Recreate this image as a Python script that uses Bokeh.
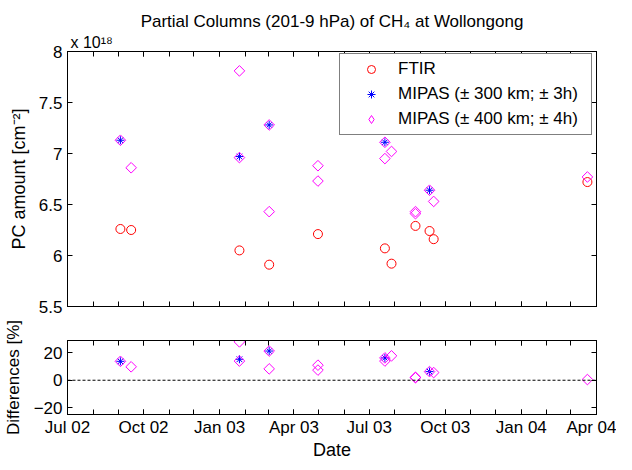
import numpy as np
import pandas as pd
from bokeh.plotting import figure
from bokeh.layouts import column
from bokeh.models import (ColumnDataSource, FixedTicker, DatetimeTickFormatter, LinearAxis,
                          DatetimeAxis, Range1d, Span, Legend, LegendItem, Title,
                          CustomJSTickFormatter)
from bokeh.embed import file_html
from bokeh.resources import INLINE

# ---------------- data (PC amounts in units of 1e18 cm^-2) ----------------
ftir_dates = ["2002-09-03", "2002-09-16", "2003-01-25", "2003-03-02", "2003-04-30",
              "2003-07-20", "2003-07-28", "2003-08-26", "2003-09-12", "2003-09-17",
              "2004-03-21"]
ftir_pc = [6.26, 6.25, 6.05, 5.91, 6.21, 6.07, 5.92, 6.29, 6.24, 6.16, 6.72]

m300_dates = ["2002-09-03", "2003-01-25", "2003-03-02", "2003-07-20", "2003-09-12"]
m300_pc = [7.13, 6.97, 7.28, 7.11, 6.64]
m300_diff = [13.8, 15.3, 21.3, 16.3, 6.3]

m400_dates = ["2002-09-03", "2002-09-16", "2003-01-25", "2003-01-25", "2003-03-02",
              "2003-03-02", "2003-04-30", "2003-04-30", "2003-07-20", "2003-07-20",
              "2003-07-28", "2003-08-26", "2003-08-26", "2003-09-12", "2003-09-17",
              "2004-03-21"]
m400_pc = [7.13, 6.86, 7.81, 6.96, 7.28, 6.43, 6.88, 6.73, 7.11, 6.95,
           7.02, 6.43, 6.41, 6.64, 6.53, 6.77]
m400_diff = [13.8, 9.8, 28.0, 14.0, 21.3, 8.3, 11.0, 7.4, 16.3, 14.0,
             17.8, 2.2, 1.8, 6.3, 5.6, 0.5]

x_tick_dates = ["2002-07-01", "2002-10-01", "2003-01-01", "2003-04-01",
                "2003-07-01", "2003-10-01", "2004-01-01", "2004-04-01"]
x_minor_dates = ["2002-07-01", "2002-08-01", "2002-09-01", "2002-10-01", "2002-11-01",
                 "2002-12-01", "2003-01-01", "2003-02-01", "2003-03-01", "2003-04-01",
                 "2003-05-01", "2003-06-01", "2003-07-01", "2003-08-01", "2003-09-01",
                 "2003-10-01", "2003-11-01", "2003-12-01", "2004-01-01", "2004-02-01",
                 "2004-03-01", "2004-04-01"]
pc_ticks = [5.5, 6, 6.5, 7, 7.5, 8]
diff_ticks = [-20, 0, 20]

title_text = "Partial Columns (201-9 hPa) of CH\u2084 at Wollongong"
scale_text = "x 10\u00b9\u2078"
labels = ["FTIR", "MIPAS (\u00b1 300 km; \u00b1 3h)", "MIPAS (\u00b1 400 km; \u00b1 4h)"]

# ---------------- helpers ----------------
FONT = "Liberation Sans"
TICK_FS = "17px"
LAB_FS = "18px"


def ms(d):
    return pd.Timestamp(d).value / 1e6


def dts(lst):
    return pd.to_datetime(lst)


xr = Range1d(start=ms(x_tick_dates[0]), end=ms(x_tick_dates[-1]))
x_ticker = FixedTicker(ticks=[ms(d) for d in x_tick_dates],
                       minor_ticks=[ms(d) for d in x_minor_dates])
blank = CustomJSTickFormatter(code="return ''")


def style_axis(ax, show_labels=True):
    ax.axis_line_color = "black"
    ax.axis_line_width = 1
    ax.major_tick_in = 5
    ax.major_tick_out = 0
    ax.minor_tick_in = 5
    ax.minor_tick_out = 0
    ax.major_tick_line_color = "black"
    ax.minor_tick_line_color = "black"
    ax.major_label_text_font = FONT
    ax.major_label_text_color = "black"
    ax.axis_label_text_font = FONT
    ax.axis_label_text_font_style = "normal"
    ax.axis_label_text_font_size = LAB_FS
    ax.axis_label_text_color = "black"
    if show_labels:
        ax.major_label_text_font_size = TICK_FS
    else:
        ax.formatter = blank
        ax.major_label_text_font_size = "0px"
        ax.major_label_standoff = 0


def base_fig(height, yr, top, bottom):
    p = figure(width=616, height=height, x_axis_type="datetime", x_range=xr, y_range=yr,
               output_backend="svg", toolbar_location=None,
               min_border_left=62, min_border_right=20,
               min_border_top=top, min_border_bottom=bottom)
    p.xgrid.visible = False
    p.ygrid.visible = False
    p.outline_line_color = "black"
    p.background_fill_color = "white"
    p.border_fill_color = "white"
    return p


def add_mirror_axes(p, y_ticker):
    ax_top = DatetimeAxis(ticker=x_ticker)
    style_axis(ax_top, show_labels=False)
    p.add_layout(ax_top, "above")
    ax_right = LinearAxis(ticker=y_ticker)
    style_axis(ax_right, show_labels=False)
    ax_right.minor_tick_in = 0
    p.add_layout(ax_right, "right")


# ---------------- top panel ----------------
p1 = base_fig(320, Range1d(5.5, 8), 51, 14)
p1.xaxis.ticker = x_ticker
style_axis(p1.xaxis[0], show_labels=False)
pc_ticker = FixedTicker(ticks=pc_ticks, minor_ticks=[])
p1.yaxis.ticker = pc_ticker
style_axis(p1.yaxis[0])
p1.yaxis.minor_tick_in = 0
p1.yaxis.major_label_standoff = 5
p1.yaxis.axis_label = "PC amount [cm\u207b\u00b2]"
p1.yaxis.axis_label_standoff = 7
add_mirror_axes(p1, pc_ticker)

p1.add_layout(Title(text=scale_text, align="left", offset=3, standoff=2, text_font=FONT,
                    text_font_size="16px", text_font_style="normal",
                    text_color="black"), "above")
p1.title.text = title_text
p1.title.align = "center"
p1.title.text_font = FONT
p1.title.text_font_size = "17px"
p1.title.text_font_style = "normal"
p1.title.text_color = "black"
p1.title.standoff = 0

src_f = ColumnDataSource(dict(x=dts(ftir_dates), y=ftir_pc))
src_3 = ColumnDataSource(dict(x=dts(m300_dates), y=m300_pc, d=m300_diff))
src_4 = ColumnDataSource(dict(x=dts(m400_dates), y=m400_pc, d=m400_diff))

r_f = p1.scatter("x", "y", source=src_f, marker="circle", size=9, fill_alpha=0,
                 line_color="#ff0000", line_width=1)
r_3 = p1.scatter("x", "y", source=src_3, marker="asterisk", size=8,
                 line_color="#0000ff", line_width=1)
r_4 = p1.scatter("x", "y", source=src_4, marker="square", angle=0.785398, size=7.5,
                 fill_alpha=0, line_color="#ff00ff", line_width=1)
# legend swatch for the diamonds (draws no points itself)
src_leg = ColumnDataSource(dict(x=[np.nan], y=[np.nan]))
r_4leg = p1.scatter("x", "y", source=src_leg, marker="diamond", size=11,
                    fill_alpha=0, line_color="#ff00ff", line_width=1)

legend = Legend(items=[LegendItem(label=labels[0], renderers=[r_f]),
                       LegendItem(label=labels[1], renderers=[r_3]),
                       LegendItem(label=labels[2], renderers=[r_4leg])],
                location=(272, 171), orientation="vertical")
legend.margin = 0
legend.padding = 5
legend.spacing = 5
legend.glyph_width = 52
legend.glyph_height = 20
legend.label_height = 20
legend.label_standoff = 1
legend.label_width = 188
legend.label_text_font = FONT
legend.label_text_font_size = "17px"
legend.label_text_color = "black"
legend.border_line_color = "black"
legend.border_line_width = 1
legend.background_fill_color = "white"
legend.background_fill_alpha = 1
p1.add_layout(legend, "center")

# ---------------- bottom panel ----------------
p2 = base_fig(142, Range1d(-25, 29), 20, 44)
p2.xaxis.ticker = x_ticker
p2.xaxis.formatter = DatetimeTickFormatter(months="%b %y", days="%b %y", years="%b %y")
style_axis(p2.xaxis[0])
p2.xaxis.major_label_standoff = 3
p2.xaxis.axis_label = "Date"
p2.xaxis.axis_label_standoff = 0
diff_ticker = FixedTicker(ticks=diff_ticks, minor_ticks=[])
p2.yaxis.ticker = diff_ticker
style_axis(p2.yaxis[0])
p2.yaxis.minor_tick_in = 0
p2.yaxis.major_label_standoff = 5
p2.yaxis.axis_label = "Differences [%]"
p2.yaxis.axis_label_text_font_size = "17px"
p2.yaxis.axis_label_standoff = 8
add_mirror_axes(p2, diff_ticker)

p2.add_layout(Span(location=0, dimension="width", line_color="black", line_width=1,
                   line_dash="3 2"))
p2.scatter("x", "d", source=src_3, marker="asterisk", size=8,
           line_color="#0000ff", line_width=1)
p2.scatter("x", "d", source=src_4, marker="square", angle=0.785398, size=7.5,
           fill_alpha=0, line_color="#ff00ff", line_width=1)

layout = column(p1, p2, spacing=0)
open("out.html", "w").write(file_html(layout, INLINE))
